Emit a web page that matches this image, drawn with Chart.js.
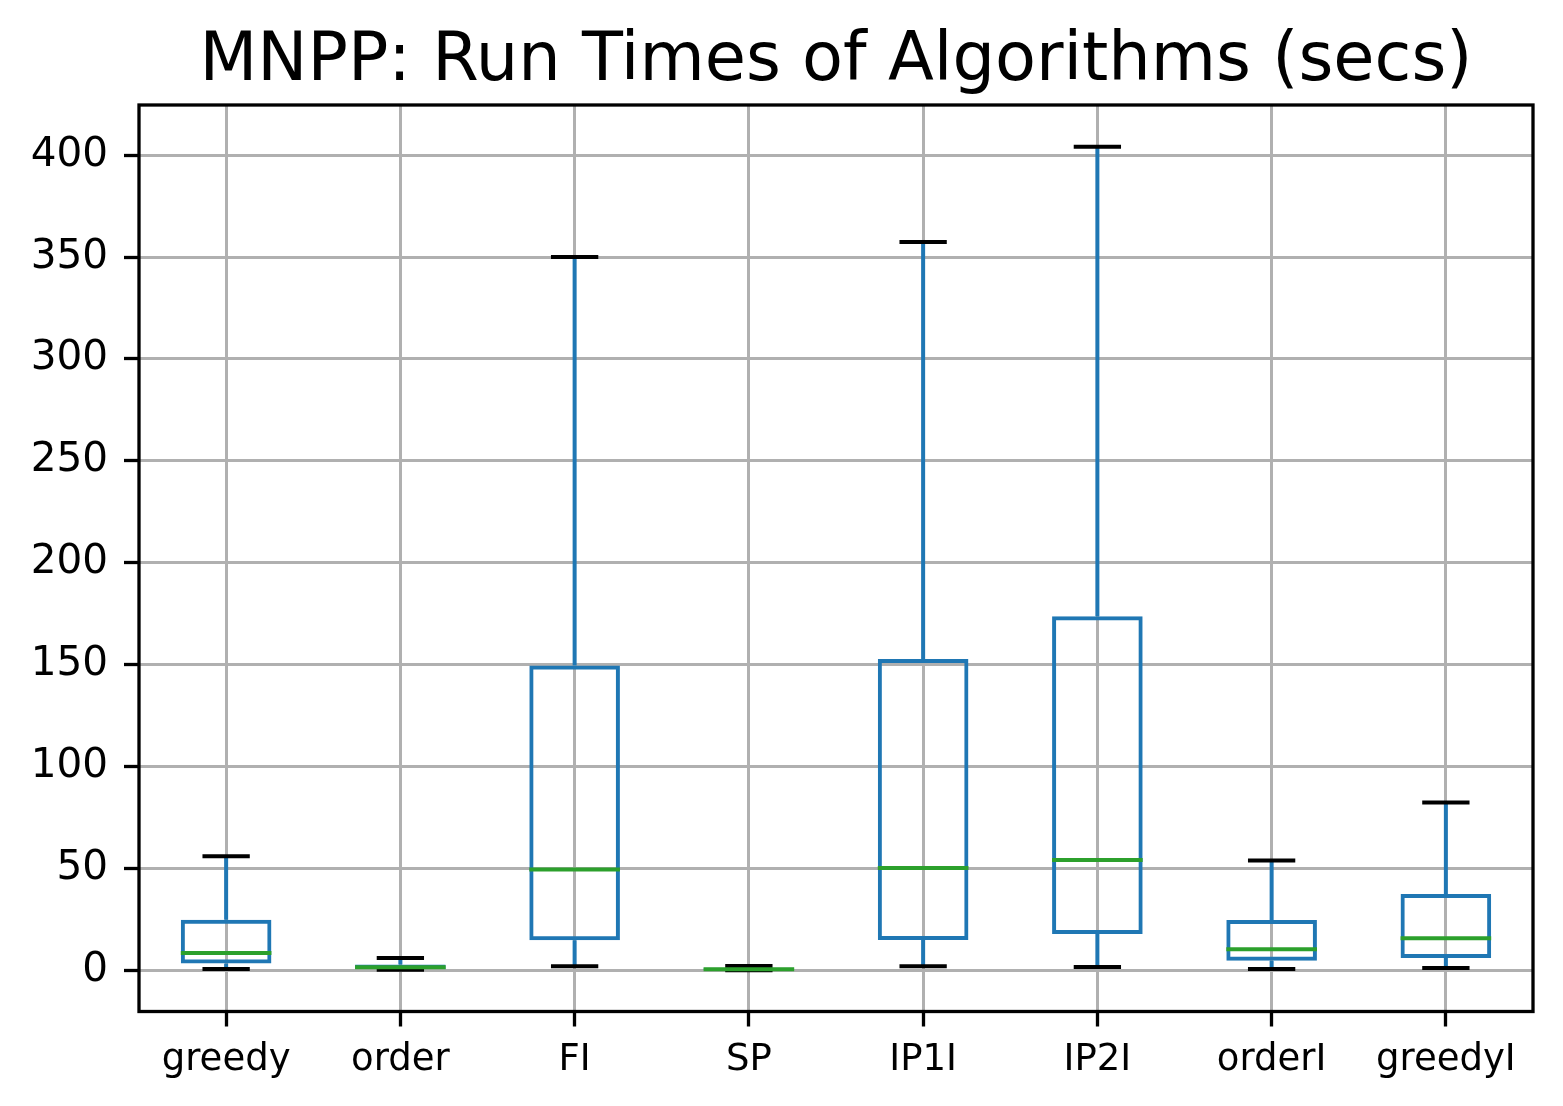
<!DOCTYPE html>
<html>
<head>
<meta charset="utf-8">
<script src="https://cdn.jsdelivr.net/npm/chart.js@4/dist/chart.umd.min.js"></script>
<style>
  html, body { margin: 0; padding: 0; background: #fff; }
  #wrap { width: 1563px; height: 1106px; }
</style>
</head>
<body>
<div id="wrap"><canvas id="boxChart" width="1563" height="1106"></canvas></div>
<script>
// box plot stats (secs)
const categories = ['greedy', 'order', 'FI', 'SP', 'IP1I', 'IP2I', 'orderI', 'greedyI'];
const whiskerLow = [0.6, 0.3, 2.0, 0.0, 2.0, 1.6, 0.6, 1.1];
const q1 = [3.3, 0.6, 14.7, 0.2, 14.9, 17.8, 4.7, 6.0];
const median = [8.5, 1.5, 49.5, 0.5, 50.2, 54.1, 10.3, 15.8];
const q3 = [24.8, 2.9, 149.6, 1.3, 152.8, 173.7, 24.7, 37.5];
const whiskerHigh = [56.0, 6.0, 350.0, 2.1, 357.4, 404.1, 53.9, 82.4];
const yTicks = [0, 50, 100, 150, 200, 250, 300, 350, 400];
const titleText = 'MNPP: Run Times of Algorithms (secs)';

const BLUE = '#1f77b4';
const GREEN = '#2ca02c';
const FONT = "'DejaVu Sans', sans-serif";

// whiskers, caps and medians drawn on top of the floating-bar boxes
const boxExtras = {
  id: 'boxExtras',
  afterDatasetsDraw(chart) {
    const ctx = chart.ctx;
    const x = chart.scales.x;
    const y = chart.scales.y;
    const meta = chart.getDatasetMeta(0);
    ctx.save();
    ctx.lineCap = 'butt';
    categories.forEach((c, i) => {
      const cx = x.getPixelForValue(i);
      const bar = meta.data[i];
      const half = bar.width / 2;
      const capHalf = half / 2;
      // whiskers
      ctx.strokeStyle = BLUE;
      ctx.lineWidth = 4;
      ctx.beginPath();
      ctx.moveTo(cx, y.getPixelForValue(q3[i]));
      ctx.lineTo(cx, y.getPixelForValue(whiskerHigh[i]));
      ctx.moveTo(cx, y.getPixelForValue(q1[i]));
      ctx.lineTo(cx, y.getPixelForValue(whiskerLow[i]));
      ctx.stroke();
      // caps
      ctx.strokeStyle = '#000';
      ctx.beginPath();
      [whiskerHigh[i], whiskerLow[i]].forEach(v => {
        const py = y.getPixelForValue(v);
        ctx.moveTo(cx - capHalf - 1, py);
        ctx.lineTo(cx + capHalf + 1, py);
      });
      ctx.stroke();
      // median
      ctx.strokeStyle = GREEN;
      const my = y.getPixelForValue(median[i]);
      ctx.beginPath();
      ctx.moveTo(cx - half, my);
      ctx.lineTo(cx + half, my);
      ctx.stroke();
    });
    ctx.restore();
  },
  afterDraw(chart) {
    const a = chart.chartArea;
    const ctx = chart.ctx;
    ctx.save();
    ctx.strokeStyle = '#000';
    ctx.lineWidth = 3.3;
    ctx.strokeRect(a.left, a.top, a.right - a.left, a.bottom - a.top);
    // title, centred over the plot area like matplotlib
    ctx.fillStyle = '#000';
    ctx.font = "67px " + FONT;
    ctx.textAlign = 'center';
    ctx.textBaseline = 'alphabetic';
    ctx.fillText(titleText, (a.left + a.right) / 2, 80);
    ctx.restore();
  }
};

new Chart(document.getElementById('boxChart').getContext('2d'), {
  type: 'bar',
  data: {
    labels: categories,
    datasets: [{
      label: 'Run time',
      data: categories.map((c, i) => [q1[i], q3[i]]),
      backgroundColor: 'rgba(0,0,0,0)',
      borderColor: BLUE,
      borderWidth: 4,
      borderSkipped: false,
      barPercentage: 0.52,
      categoryPercentage: 1.0
    }]
  },
  options: {
    responsive: false,
    animation: false,
    layout: { padding: { left: 0, right: 30, top: 105, bottom: 0 } },
    plugins: {
      legend: { display: false },
      tooltip: { enabled: false },
      title: { display: false }
    },
    scales: {
      x: {
        offset: true,
        grid: {
          offset: false,
          color: '#b0b0b0',
          lineWidth: 3,
          tickColor: '#000',
          tickWidth: 3.3,
          tickLength: 15
        },
        border: { display: false },
        ticks: {
          color: '#000',
          padding: 12,
          font: { family: FONT, size: 37 }
        },
        afterFit(scale) { scale.height = 94.5; }
      },
      y: {
        min: -20.2,
        max: 424.6,
        grid: {
          color: '#b0b0b0',
          lineWidth: 3,
          tickColor: '#000',
          tickWidth: 3.3,
          tickLength: 15
        },
        border: { display: false },
        ticks: {
          color: '#000',
          padding: 16,
          font: { family: FONT, size: 40.5 }
        },
        afterBuildTicks(scale) {
          scale.ticks = yTicks.map(v => ({ value: v }));
        },
        afterFit(scale) { scale.width = 139; }
      }
    }
  },
  plugins: [boxExtras]
});
</script>
</body>
</html>
